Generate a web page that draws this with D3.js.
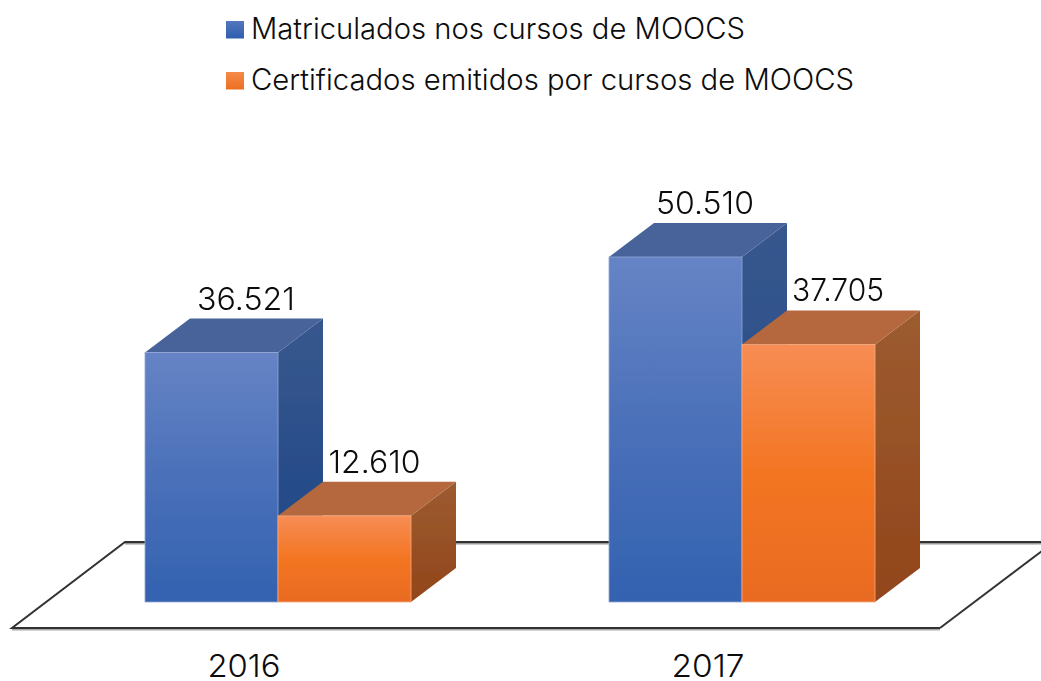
<!DOCTYPE html>
<html><head><meta charset="utf-8">
<script src="https://cdn.jsdelivr.net/npm/d3@7/dist/d3.min.js"></script>
<style>html,body{margin:0;padding:0;background:#fff;overflow:hidden}svg{display:block}text{font-family:Inter,"Open Sans",sans-serif;font-weight:300;fill:#0c0c0c}</style>
</head><body><svg id="c" width="1041" height="681"></svg>
<script>
const categories=["2016","2017"];
const seriesNames=["Matriculados nos cursos de MOOCS","Certificados emitidos por cursos de MOOCS"];
const matriculados=[36521,50510];
const certificados=[12610,37705];
const valueLabels=[["36.521","50.510"],["12.610","37.705"]];
const palette=[
 {front:["#6684c5","#4a70b9","#3362b0"],side:["#38578e","#1a4585"],top:"#466399",edge:"#93a6d8",swatch:["#5277bd","#2f5fae"]},
 {front:["#f78d55","#f37522","#e96b20"],side:["#9c5c30","#92451a"],top:"#b5683d",edge:"#f5ab80",swatch:["#f58a4c","#ed6f20"]}
];
const W=1041,H=681;
const labelShift=[[34.5,29.5],[30,29.5]];
const labelLen=[[98,98],[92,92]];
const svg=d3.select("#c");
const defs=svg.append("defs");
const grad=(id,c)=>{const g=defs.append("linearGradient").attr("id",id).attr("x1",0).attr("y1",0).attr("x2",0).attr("y2",1);
 c.forEach((col,i)=>g.append("stop").attr("offset",i/(c.length-1)).attr("stop-color",col));};
palette.forEach((p,i)=>{grad("f"+i,p.front);grad("s"+i,p.side);grad("w"+i,p.swatch);});
defs.append("filter").attr("id","soft").attr("x","-5%").attr("y","-5%").attr("width","110%").attr("height","110%")
 .append("feGaussianBlur").attr("stdDeviation",0.45);

const x0=d3.scaleBand().domain(categories).range([145,875]).paddingInner(198/464).paddingOuter(0);
const x1=d3.scaleBand().domain([0,1]).range([0,x0.bandwidth()]);
const y=d3.scaleLinear().domain([0,50510]).range([602,257]);
const dx=45,dy=-34;
const series=[matriculados,certificados];

// floor
const floorFront=y(0)+26, floorBack=y(0)-60;
const floor=svg.append("g").attr("filter","url(#soft)");
floor.append("path").attr("d",`M125,${floorBack}L${W+5},${floorBack}`).attr("stroke","#9a9a9a").attr("stroke-width",2).attr("transform","translate(0,1.5)").attr("fill","none");
floor.append("path").attr("d",`M12,${floorFront}L940,${floorFront}`).attr("stroke","#a8a8a8").attr("stroke-width",2).attr("transform","translate(0,1.5)").attr("fill","none");
floor.append("path").attr("d",`M940,${floorFront}L12,${floorFront}L125,${floorBack}L${W+5},${floorBack}`).attr("stroke","#333").attr("stroke-width",2).attr("fill","none");
floor.append("path").attr("d",`M940,${floorFront}L${W+5},${floorFront-80}`).attr("stroke","#333").attr("stroke-width",2).attr("fill","none");

// bars
const bars=svg.append("g").attr("filter","url(#soft)");
categories.forEach((c,ci)=>{
 series.forEach((vals,si)=>{
  const p=palette[si],v=vals[ci];
  const l=x0(c)+x1(si),r=l+x1.bandwidth(),t=y(v),b=y(0);
  const g=bars.append("g");
  g.append("path").attr("d",`M${r},${t}L${r+dx},${t+dy}L${r+dx},${b+dy}L${r},${b}Z`).attr("fill",`url(#s${si})`);
  g.append("path").attr("d",`M${l},${t}L${l+dx},${t+dy}L${r+dx},${t+dy}L${r},${t}Z`).attr("fill",p.top);
  g.append("rect").attr("x",l).attr("y",t).attr("width",x1.bandwidth()).attr("height",b-t).attr("fill",`url(#f${si})`).attr("stroke",p.edge).attr("stroke-width",0.8);
 });
});

// value labels
categories.forEach((c,ci)=>{
 series.forEach((vals,si)=>{
  svg.append("text").attr("x",x0(c)+x1(si)+x1.bandwidth()/2+labelShift[si][ci]).attr("y",y(vals[ci])-43)
   .attr("text-anchor","middle").attr("font-size",31).attr("textLength",labelLen[si][ci]).attr("lengthAdjust","spacingAndGlyphs").text(valueLabels[si][ci]);
 });
});

// category axis
const ax=svg.append("g").attr("transform",`translate(-34,${y(0)+41})`).call(d3.axisBottom(x0).tickSize(0).tickPadding(0));
ax.select(".domain").remove();
ax.selectAll("text").attr("font-size",31).attr("font-family",null).attr("dy",null).attr("y",34).attr("textLength",73).attr("lengthAdjust","spacingAndGlyphs");

// legend
const legend=svg.append("g");
const legY=[21,72],legLen=[494,603];
seriesNames.forEach((n,i)=>{
 legend.append("rect").attr("x",226).attr("y",legY[i]).attr("width",18).attr("height",17.5).attr("fill",`url(#w${i})`);
 legend.append("text").attr("x",251).attr("y",legY[i]+18).attr("font-size",29.5).attr("textLength",legLen[i]).attr("lengthAdjust","spacingAndGlyphs").text(n);
});
</script></body></html>
